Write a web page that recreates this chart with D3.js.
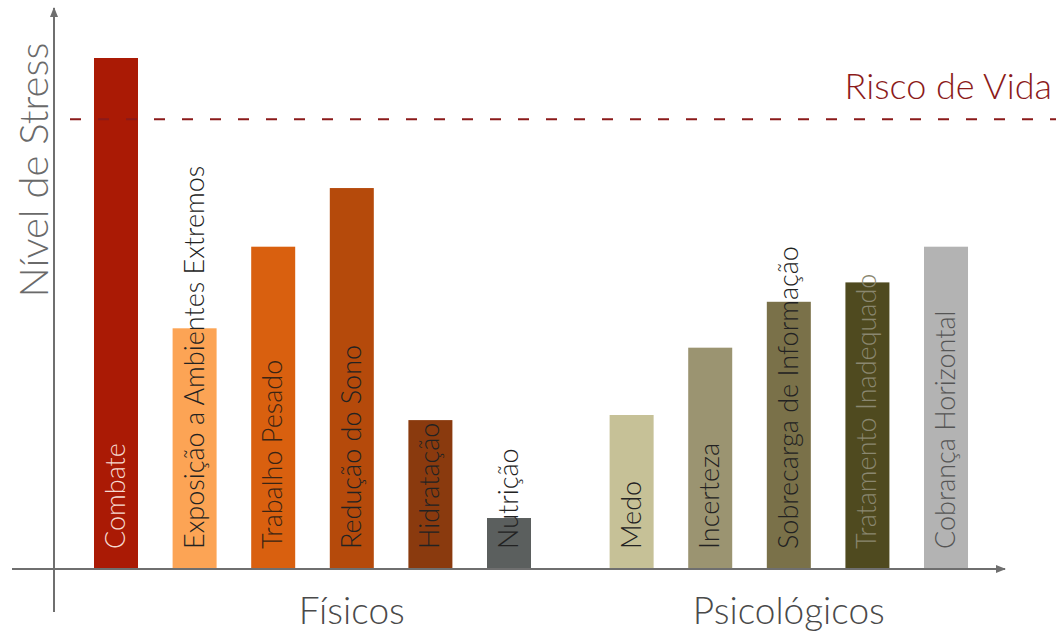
<!DOCTYPE html>
<html>
<head>
<meta charset="utf-8">
<script src="https://cdn.jsdelivr.net/npm/d3@7"></script>
<style>
  body { margin: 0; background: #fff; }
  text { font-family: Lato, "Open Sans", sans-serif; }
</style>
</head>
<body>
<div id="chart"></div>
<script>
'use strict';

// bar names, stress level (0-10) and colours, left to right
var fisicos = ["Combate", "Exposição a Ambientes Extremos", "Trabalho Pesado", "Redução do Sono", "Hidratação", "Nutrição"];
var fisicosValues = [10, 4.7, 6.3, 7.45, 2.9, 0.98];
var fisicosColors = ["#aa1a05", "#fca455", "#d9600f", "#b54a0b", "#8a3a0e", "#5b5f5e"];

var psicologicos = ["Medo", "Incerteza", "Sobrecarga de Informação", "Tratamento Inadequado", "Cobrança Horizontal"];
var psicologicosValues = [3.0, 4.32, 5.22, 5.6, 6.3];
var psicologicosColors = ["#c6c197", "#9b9471", "#7a7149", "#4f4a1f", "#b3b3b3"];

var riscoDeVida = 8.8;
var groupNames = ["Físicos", "Psicológicos"];

window.onload = function() {
    var width = 1056, height = 634;

    var svg = d3.select("#chart")
        .append("svg")
            .attr("width", width)
            .attr("height", height);

    // one row per bar, with a slot index (extra gap between the two groups)
    var bars = [];
    fisicos.forEach(function(n, i) {
        bars.push({name: n, value: fisicosValues[i], color: fisicosColors[i], slot: i, group: 0});
    });
    psicologicos.forEach(function(n, i) {
        bars.push({name: n, value: psicologicosValues[i], color: psicologicosColors[i], slot: 6.56 + i, group: 1});
    });
    // group titles sit under these slots
    var groupSlots = [3, 8.56];

    var barWidth = 44;
    var x = d3.scaleLinear()
        .domain([0, 1])
        .range([94, 172.6]);

    var y = d3.scaleLinear()
        .domain([0, 10])
        .range([568, 58]);

    // arrow marker for axes
    svg.append("defs").append("marker")
        .attr("id", "arrow")
        .attr("viewBox", "0 0 10 10")
        .attr("refX", 9).attr("refY", 5)
        .attr("markerWidth", 5).attr("markerHeight", 5)
        .attr("orient", "auto")
        .append("path")
            .attr("d", "M0,1 L10,5 L0,9 Z")
            .style("fill", "#6f6f6f");

    // bars
    svg.selectAll("rect.bar")
        .data(bars)
        .enter()
        .append("rect")
            .attr("class", "bar")
            .attr("x", function(d) { return x(d.slot); })
            .attr("y", function(d) { return y(d.value); })
            .attr("width", barWidth)
            .attr("height", function(d) { return y(0) - y(d.value); })
            .style("fill", function(d) { return d.color; });

    // vertical labels inside the bars
    var labelColors = {"Combate": "#f6d9d0", "Trabalho Pesado": "#3a2414", "Tratamento Inadequado": "#8a8770", "Cobrança Horizontal": "#555"};
    svg.selectAll("text.label")
        .data(bars)
        .enter()
        .append("text")
            .attr("class", "label")
            .attr("transform", function(d) {
                return "translate(" + (x(d.slot) + barWidth / 2 + 9) + "," + (y(0) - 19) + ") rotate(-90)";
            })
            .style("font-size", "27px")
            .style("font-weight", 300)
            .style("fill", function(d) { return labelColors[d.name] || "#222"; })
            .text(function(d) { return d.name; });

    // risk line
    svg.append("line")
        .attr("x1", 70).attr("x2", width)
        .attr("y1", y(riscoDeVida)).attr("y2", y(riscoDeVida))
        .style("stroke", "#8b1a1a")
        .style("stroke-width", 2)
        .style("stroke-dasharray", "11,17");

    svg.append("text")
        .attr("x", 1052)
        .attr("y", y(riscoDeVida) - 20)
        .style("text-anchor", "end")
        .style("font-size", "36px")
        .style("font-weight", 300)
        .style("fill", "#8b1a1a")
        .text("Risco de Vida");

    // axes
    svg.append("line")
        .attr("x1", 54).attr("x2", 54)
        .attr("y1", 612).attr("y2", 8)
        .style("stroke", "#6f6f6f")
        .style("stroke-width", 2)
        .attr("marker-end", "url(#arrow)");

    svg.append("line")
        .attr("x1", 12).attr("x2", 1005)
        .attr("y1", y(0) + 1).attr("y2", y(0) + 1)
        .style("stroke", "#6f6f6f")
        .style("stroke-width", 2)
        .attr("marker-end", "url(#arrow)");

    // y axis title
    svg.append("text")
        .attr("transform", "translate(48," + 170 + ") rotate(-90)")
        .style("text-anchor", "middle")
        .style("font-size", "40px")
        .style("font-weight", 300)
        .style("fill", "#6a6a6a")
        .text("Nível de Stress");

    // group labels
    svg.selectAll("text.group")
        .data(groupNames)
        .enter()
        .append("text")
            .attr("class", "group")
            .attr("x", function(d, i) { return x(groupSlots[i]) + barWidth / 2; })
            .attr("y", 624)
            .style("text-anchor", "middle")
            .style("font-size", "37px")
            .style("font-weight", 300)
            .style("fill", "#4a4a4a")
            .text(function(d) { return d; });
};
</script>
</body>
</html>
